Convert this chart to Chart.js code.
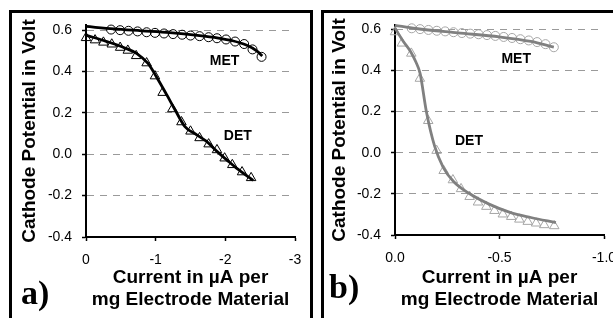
<!DOCTYPE html>
<html>
<head>
<meta charset="utf-8">
<script src="https://cdn.jsdelivr.net/npm/chart.js@4.4.1/dist/chart.umd.min.js"></script>
<style>
  html, body { margin: 0; padding: 0; background: #fff; width: 613px; height: 318px; overflow: hidden; }
  .wrap { position: absolute; top: 0; height: 318px; }
  #wrapA { left: 0; width: 315px; }
  #wrapB { left: 321px; width: 310px; }
  .box { position: absolute; border: 3px solid #000; box-sizing: border-box; pointer-events: none; }
  #boxA { left: 9px; top: 10px; width: 304px; height: 330px; }
  #boxB { left: 321px; top: 10px; width: 320px; height: 330px; }
  .tag { position: absolute; font-family: "Liberation Serif", "Times New Roman", serif; font-weight: bold; font-size: 34px; line-height: 1; }
</style>
</head>
<body>
<div class="wrap" id="wrapA"><canvas id="chartA" width="315" height="318"></canvas></div>
<div class="wrap" id="wrapB"><canvas id="chartB" width="310" height="318"></canvas></div>
<div class="box" id="boxA"></div>
<div class="box" id="boxB"></div>
<div class="tag" style="left:21px; top:276px;">a)</div>
<div class="tag" style="left:329px; top:270px;">b)</div>

<script>
// shared ticks
const yTicks = [-0.4, -0.2, 0, 0.2, 0.4, 0.6];
const xTicksA = [0, -1, -2, -3];
const xTicksB = [0, -0.5, -1];

// panel a) measured points
const metAX = [-0.36, -0.49, -0.61, -0.74, -0.87, -0.99, -1.12, -1.25, -1.38, -1.50, -1.63, -1.76, -1.88, -2.01, -2.14, -2.27, -2.39, -2.52];
const metAY = [0.603, 0.600, 0.597, 0.594, 0.590, 0.587, 0.584, 0.581, 0.578, 0.574, 0.571, 0.566, 0.561, 0.555, 0.545, 0.533, 0.507, 0.471];
const detAX = [0, -0.13, -0.25, -0.37, -0.49, -0.60, -0.72, -0.87, -0.99, -1.10, -1.24, -1.37, -1.50, -1.63, -1.76, -1.88, -1.99, -2.10, -2.24, -2.37];
const detAY = [0.563, 0.552, 0.541, 0.532, 0.516, 0.502, 0.476, 0.441, 0.378, 0.298, 0.219, 0.156, 0.111, 0.079, 0.049, 0.021, -0.019, -0.051, -0.086, -0.114];
// panel a) fitted curves
const metFitAX = [0, -0.4, -0.8, -1.2, -1.6, -1.9, -2.1, -2.3, -2.45, -2.53];
const metFitAY = [0.618, 0.606, 0.597, 0.588, 0.575, 0.562, 0.549, 0.528, 0.500, 0.475];
const detFitAX = [0, -0.3, -0.55, -0.73, -0.89, -1.01, -1.16, -1.28, -1.42, -1.59, -1.73, -1.88, -2.02, -2.16, -2.40];
const detFitAY = [0.576, 0.545, 0.515, 0.487, 0.439, 0.375, 0.287, 0.214, 0.134, 0.094, 0.062, 0.014, -0.027, -0.067, -0.126];

// panel b) measured points
const metBX = [-0.08, -0.12, -0.16, -0.20, -0.24, -0.28, -0.32, -0.36, -0.40, -0.44, -0.48, -0.52, -0.56, -0.60, -0.64, -0.68, -0.72, -0.76];
const metBY = [0.604, 0.600, 0.596, 0.592, 0.589, 0.585, 0.581, 0.578, 0.575, 0.571, 0.567, 0.562, 0.557, 0.551, 0.545, 0.537, 0.527, 0.512];
const detBX = [0, -0.033, -0.078, -0.119, -0.159, -0.199, -0.233, -0.277, -0.316, -0.357, -0.397, -0.437, -0.476, -0.516, -0.556, -0.595, -0.635, -0.675, -0.714, -0.762];
const detBY = [0.586, 0.531, 0.482, 0.360, 0.155, 0.010, -0.088, -0.133, -0.176, -0.214, -0.241, -0.262, -0.282, -0.299, -0.311, -0.324, -0.335, -0.343, -0.351, -0.356];
// panel b) fitted curves
const metFitBX = [0, -0.1, -0.3, -0.5, -0.65, -0.76];
const metFitBY = [0.618, 0.603, 0.582, 0.562, 0.540, 0.513];
const detFitBX = [0, -0.04, -0.075, -0.10, -0.12, -0.15, -0.19, -0.23, -0.28, -0.35, -0.45, -0.55, -0.65, -0.77];
const detFitBY = [0.605, 0.54, 0.49, 0.44, 0.385, 0.20, 0.03, -0.07, -0.14, -0.195, -0.25, -0.29, -0.315, -0.34];

// curve labels (data coordinates)
const curveNames = ['MET', 'DET'];
const labelAX = [-1.99, -2.18];
const labelAY = [0.45, 0.088];
const labelBX = [-0.58, -0.354];
const labelBY = [0.454, 0.056];

const FONT = '"Liberation Sans", Arial, Helvetica, sans-serif';
Chart.defaults.font.family = FONT;
Chart.defaults.color = '#000';

const pts = (xs, ys) => xs.map((x, i) => ({ x, y: ys[i] }));

const curveLabels = {
  id: 'curveLabels',
  afterDatasetsDraw(chart, args, opts) {
    const { ctx, scales: { x, y } } = chart;
    ctx.save();
    ctx.font = 'bold 14px ' + FONT;
    ctx.fillStyle = '#000';
    ctx.textAlign = 'center';
    ctx.textBaseline = 'middle';
    opts.names.forEach((t, i) => {
      ctx.fillText(t, x.getPixelForValue(opts.xs[i]), y.getPixelForValue(opts.ys[i]));
    });
    ctx.restore();
  }
};

function makePanel(id, p) {
  const markerBase = { showLine: false, clip: false, pointBorderWidth: 1, pointBackgroundColor: 'rgba(0,0,0,0)', order: 1 };
  const fitBase = { showLine: true, pointRadius: 0, borderWidth: 2.8, clip: false, cubicInterpolationMode: 'monotone', order: 0 };
  return new Chart(document.getElementById(id), {
    type: 'scatter',
    data: {
      datasets: [
        { ...fitBase, label: 'MET fit', data: pts(p.metFitX, p.metFitY), borderColor: p.lineColor },
        { ...fitBase, label: 'DET fit', data: pts(p.detFitX, p.detFitY), borderColor: p.lineColor },
        { ...markerBase, label: 'MET', data: pts(p.metX, p.metY), pointStyle: 'circle', pointRadius: 4.5, pointBorderColor: p.markColor },
        { ...markerBase, label: 'DET', data: pts(p.detX, p.detY), pointStyle: 'triangle', pointRadius: 5.5, pointBorderColor: p.markColor }
      ]
    },
    options: {
      responsive: false,
      animation: false,
      events: [],
      layout: { padding: { top: 25, right: p.padRight, left: 0, bottom: 0 } },
      plugins: {
        legend: { display: false },
        tooltip: { enabled: false },
        curveLabels: { names: curveNames, xs: p.labelX, ys: p.labelY }
      },
      scales: {
        x: {
          type: 'linear',
          reverse: true,
          min: p.xTicks[p.xTicks.length - 1],
          max: 0,
          afterBuildTicks: s => { s.ticks = p.xTicks.map(v => ({ value: v })); },
          afterFit: s => { s.height = p.xHeight; },
          grid: { drawOnChartArea: false, tickColor: '#000', tickLength: 4, tickWidth: 1.5 },
          border: { color: '#000', width: 2 },
          ticks: { color: '#000', font: { size: 14 }, padding: 11, maxRotation: 0, autoSkip: false, callback: p.xFmt },
          title: {
            display: true,
            text: ['Current in µA per', 'mg Electrode Material'],
            color: '#000',
            font: { size: 19, weight: 'bold', lineHeight: '22px' },
            padding: { top: 0, bottom: 7 }
          }
        },
        y: {
          type: 'linear',
          min: -0.4,
          max: p.yMax,
          afterBuildTicks: s => { s.ticks = yTicks.map(v => ({ value: v })); },
          afterFit: s => { s.width = p.yWidth; },
          grid: { color: '#9a9a9a', lineWidth: 1, tickColor: '#000', tickLength: 4, tickWidth: 1.5 },
          border: { color: '#000', width: 2, dash: [7, 6] },
          ticks: { color: '#000', font: { size: 14 }, padding: 10, callback: v => v.toFixed(1) },
          title: {
            display: true,
            text: 'Cathode Potential in Volt',
            color: '#000',
            font: { size: 19, weight: 'bold' },
            padding: { top: p.yTitlePad, bottom: 0 }
          }
        }
      }
    },
    plugins: [curveLabels]
  });
}

makePanel('chartA', {
  metX: metAX, metY: metAY, detX: detAX, detY: detAY,
  metFitX: metFitAX, metFitY: metFitAY, detFitX: detFitAX, detFitY: detFitAY,
  labelX: labelAX, labelY: labelAY,
  xTicks: xTicksA, xFmt: v => String(v),
  lineColor: '#000', markColor: '#000',
  yMax: 0.625, yWidth: 86, xHeight: 81, padRight: 20, yTitlePad: 18.6
});

makePanel('chartB', {
  metX: metBX, metY: metBY, detX: detBX, detY: detBY,
  metFitX: metFitBX, metFitY: metFitBY, detFitX: detFitBX, detFitY: detFitBY,
  labelX: labelBX, labelY: labelBY,
  xTicks: xTicksB, xFmt: v => v.toFixed(1),
  lineColor: '#808080', markColor: '#a6a6a6',
  yMax: 0.62, yWidth: 74, xHeight: 83, padRight: 27, yTitlePad: 7.6
});
</script>
</body>
</html>
